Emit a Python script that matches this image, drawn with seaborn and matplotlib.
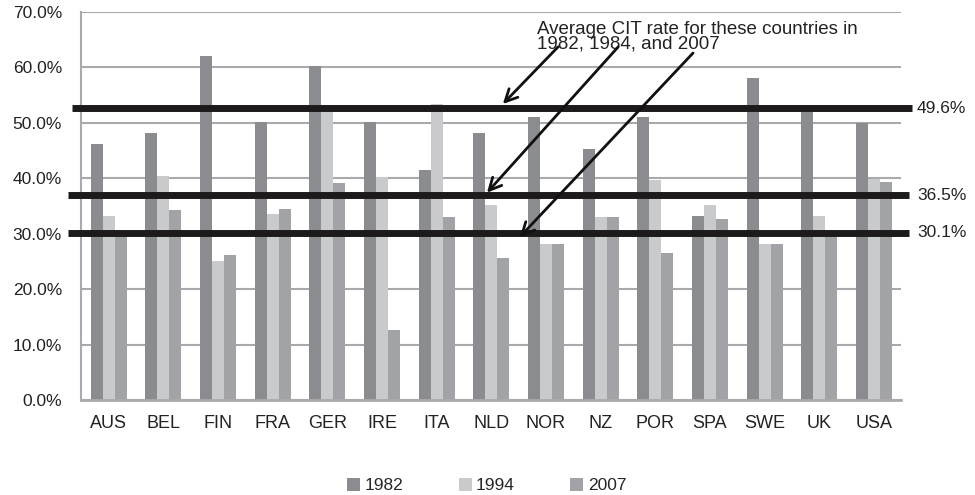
import pandas as pd
import numpy as np
import seaborn as sns
import matplotlib.pyplot as plt
from matplotlib import font_manager as fm
from matplotlib.ticker import FuncFormatter

countries = ['AUS', 'BEL', 'FIN', 'FRA', 'GER', 'IRE', 'ITA', 'NLD', 'NOR', 'NZ',
             'POR', 'SPA', 'SWE', 'UK', 'USA']
rate_1982 = [46.2, 48.2, 62.1, 50.2, 60.3, 50.2, 41.5, 48.2, 51.0, 45.2,
             51.0, 33.2, 58.1, 52.0, 49.9]
rate_1994 = [33.2, 40.4, 25.1, 33.5, 52.0, 40.2, 53.4, 35.1, 28.1, 33.1,
             39.7, 35.1, 28.1, 33.2, 39.9]
rate_2007 = [30.0, 34.2, 26.1, 34.5, 39.1, 12.6, 33.1, 25.6, 28.1, 33.1,
             26.6, 32.7, 28.1, 30.0, 39.4]
years = ['1982', '1994', '2007']

# average lines (drawn position) and the labels printed next to them
avg_levels = [52.6, 36.9, 30.2]
avg_labels = ['49.6%', '36.5%', '30.1%']

df = pd.DataFrame({
    'country': countries * 3,
    'rate': rate_1982 + rate_1994 + rate_2007,
    'year': np.repeat(years, len(countries)),
})

# keep the narrow variant from being picked for "Liberation Sans"
fm.fontManager.ttflist = [f for f in fm.fontManager.ttflist
                          if 'narrow' not in f.fname.lower()]

sns.set_style('white')
plt.rcParams['font.family'] = ['Liberation Sans', 'DejaVu Sans']
txt = '#222222'

fig = plt.figure(figsize=(9.75, 4.95), dpi=100)
ax = fig.add_axes([81.4 / 975, 1 - 400 / 495, 819.9 / 975, 388 / 495])

sns.barplot(data=df, x='country', y='rate', hue='year',
            palette=['#8b8c8f', '#c9cacc', '#a2a3a6'],
            width=0.66, saturation=1, linewidth=0, ax=ax, zorder=2)

ax.set_ylim(0, 70)
ax.set_xlim(-0.5, 14.5)
ax.set_yticks(np.arange(0, 71, 10))
ax.yaxis.set_major_formatter(FuncFormatter(lambda v, p: f'{v:.1f}%'))
ax.set_xlabel('')
ax.set_ylabel('')
ax.grid(axis='y', color='#aaaaac', linewidth=1.5)
ax.set_axisbelow(True)
ax.tick_params(axis='y', length=7, width=1.5, color='#aaaaac', labelsize=12.5,
               labelcolor=txt, pad=7)
ax.tick_params(axis='x', length=0, labelsize=13, pad=11, labelcolor=txt)
for s in ['top', 'right']:
    ax.spines[s].set_visible(False)
ax.spines['left'].set_color('#aaaaac')
ax.spines['left'].set_linewidth(1.5)
ax.spines['bottom'].set_color('#aaaaac')
ax.spines['bottom'].set_linewidth(2)

# thick black average lines with labels on the right
for i, (lev, lab) in enumerate(zip(avg_levels, avg_labels)):
    x0 = -0.012 if i == 0 else -0.016
    x1 = 1.013 if i == 0 else 1.009
    ax.plot([x0, x1], [lev, lev], transform=ax.get_yaxis_transform(),
            color='#1c1a1a', linewidth=5, clip_on=False, zorder=4,
            solid_capstyle='butt')
    ax.text(1.019, lev, lab, transform=ax.get_yaxis_transform(),
            va='center', ha='left', fontsize=12.5, color=txt)

ax.text(7.83, 68.4, 'Average CIT rate for these countries in\n1982, 1984, and 2007',
        ha='left', va='top', fontsize=13.5, linespacing=0.82, color=txt,
        zorder=5)

arrows = [((8.22, 63.7), (7.21, 53.4)),
          ((9.32, 63.7), (6.92, 37.4)),
          ((10.69, 62.6), (7.52, 29.4))]
for tail, head in arrows:
    ax.annotate('', xy=head, xytext=tail,
                arrowprops=dict(arrowstyle='->', color='#111111', lw=2,
                                mutation_scale=22, shrinkA=0, shrinkB=0),
                zorder=6)

sns.move_legend(ax, 'center', ncol=3, frameon=False, title=None, fontsize=12.5,
                handlelength=0.75, handleheight=0.75, handletextpad=0.25,
                columnspacing=3.2,
                bbox_to_anchor=((486.5 - 81.4) / 819.9, -(485.5 - 400) / 388))

plt.savefig('out.png', dpi=100)
